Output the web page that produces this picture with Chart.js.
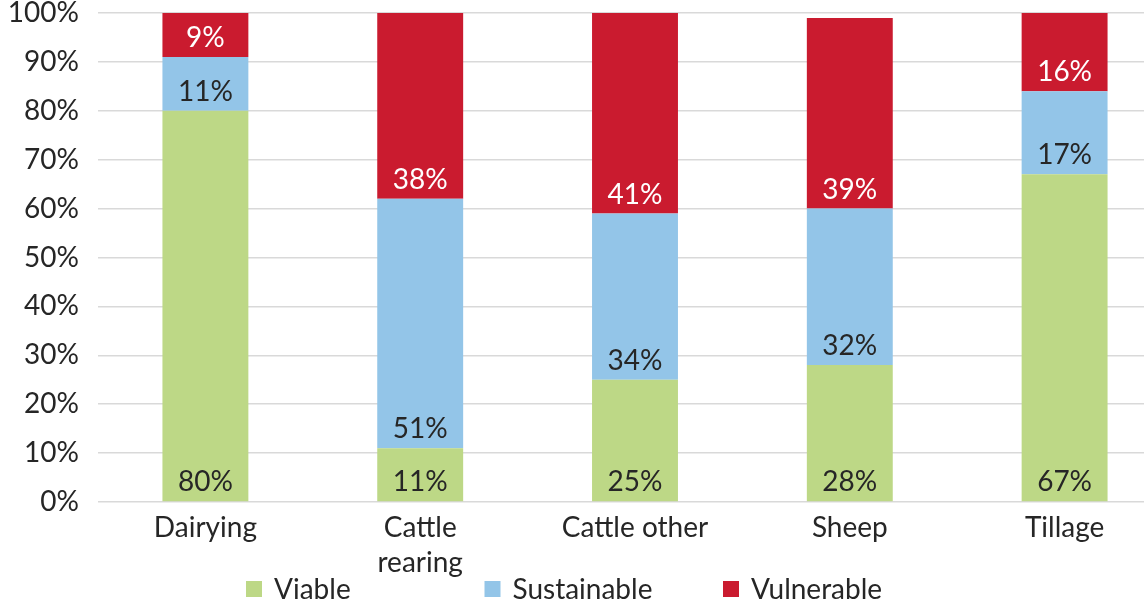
<!DOCTYPE html>
<html>
<head>
<meta charset="utf-8">
<script src="https://cdn.jsdelivr.net/npm/chart.js@4"></script>
<style>
  html, body { margin: 0; padding: 0; background: #ffffff; }
  #frame { width: 1144px; height: 603px; overflow: hidden; }
  #wrap { width: 1172px; height: 603px; }
</style>
</head>
<body>
<div id="frame">
  <div id="wrap"><canvas id="farmChart"></canvas></div>
</div>
<script>
const categories = ["Dairying", ["Cattle", "rearing"], "Cattle other", "Sheep", "Tillage"];
const viable = [80, 11, 25, 28, 67];
const sustainable = [11, 51, 34, 32, 17];
const vulnerable = [9, 38, 41, 39, 16];
const yTicks = [0, 10, 20, 30, 40, 50, 60, 70, 80, 90, 100];

const seriesNames = ["Viable", "Sustainable", "Vulnerable"];
const seriesColors = ["#bdd886", "#93c5e8", "#ca1b2f"];
const labelColors = ["#262626", "#262626", "#ffffff"];

const fontFamily = "Lato, 'Open Sans', sans-serif";
const textColor = "#262626";

// value labels sit just above the bottom edge of each segment
const segmentLabels = {
    id: "segmentLabels",
    afterDatasetsDraw(chart) {
        const ctx = chart.ctx;
        ctx.save();
        ctx.font = "28px " + fontFamily;
        ctx.textAlign = "center";
        ctx.textBaseline = "middle";
        chart.data.datasets.forEach((ds, i) => {
            const meta = chart.getDatasetMeta(i);
            meta.data.forEach((bar, j) => {
                ctx.fillStyle = labelColors[i];
                ctx.fillText(ds.data[j] + "%", bar.x, bar.base - 19);
            });
        });
        ctx.restore();
    }
};

// legend drawn in equal-width slots under the axis labels
const slotLegend = {
    id: "slotLegend",
    afterDraw(chart) {
        const ctx = chart.ctx;
        const startX = 246;
        const slot = 238.5;
        const y = 589;
        ctx.save();
        ctx.font = "28px " + fontFamily;
        ctx.textBaseline = "middle";
        ctx.textAlign = "left";
        chart.data.datasets.forEach((ds, i) => {
            const x = startX + i * slot;
            ctx.fillStyle = ds.backgroundColor;
            ctx.fillRect(x, y - 8, 16, 16);
            ctx.fillStyle = textColor;
            ctx.fillText(ds.label, x + 28, y + 1);
        });
        ctx.restore();
    }
};

const seriesData = [viable, sustainable, vulnerable];

new Chart(document.getElementById("farmChart"), {
    type: "bar",
    data: {
        labels: categories,
        datasets: seriesData.map((values, i) => ({
            label: seriesNames[i],
            data: values,
            backgroundColor: seriesColors[i],
            borderWidth: 0,
            categoryPercentage: 1,
            barPercentage: 0.4
        }))
    },
    options: {
        responsive: true,
        maintainAspectRatio: false,
        animation: false,
        layout: { padding: 0 },
        plugins: {
            legend: { display: false },
            tooltip: { enabled: false }
        },
        scales: {
            x: {
                stacked: true,
                grid: { display: false, drawTicks: false },
                border: { display: false },
                ticks: {
                    color: textColor,
                    font: { family: fontFamily, size: 28, lineHeight: 1.25 },
                    padding: 8,
                    maxRotation: 0,
                    autoSkip: false
                },
                afterFit(scale) { scale.height = 101; }
            },
            y: {
                stacked: true,
                min: 0,
                max: 100,
                afterBuildTicks(scale) {
                    scale.ticks = yTicks.map(v => ({ value: v }));
                },
                grid: { color: "#d9d9d9", lineWidth: 1.5, drawTicks: false },
                border: { display: false },
                ticks: {
                    color: textColor,
                    font: { family: fontFamily, size: 28, lineHeight: 0.93 },
                    padding: 19,
                    callback: v => v + "%"
                },
                // fixed axis width, and only half a label of room above the top tick
                afterFit(scale) {
                    scale.width = 98;
                    scale.paddingTop = 13;
                }
            }
        }
    },
    plugins: [segmentLabels, slotLegend]
});
</script>
</body>
</html>
